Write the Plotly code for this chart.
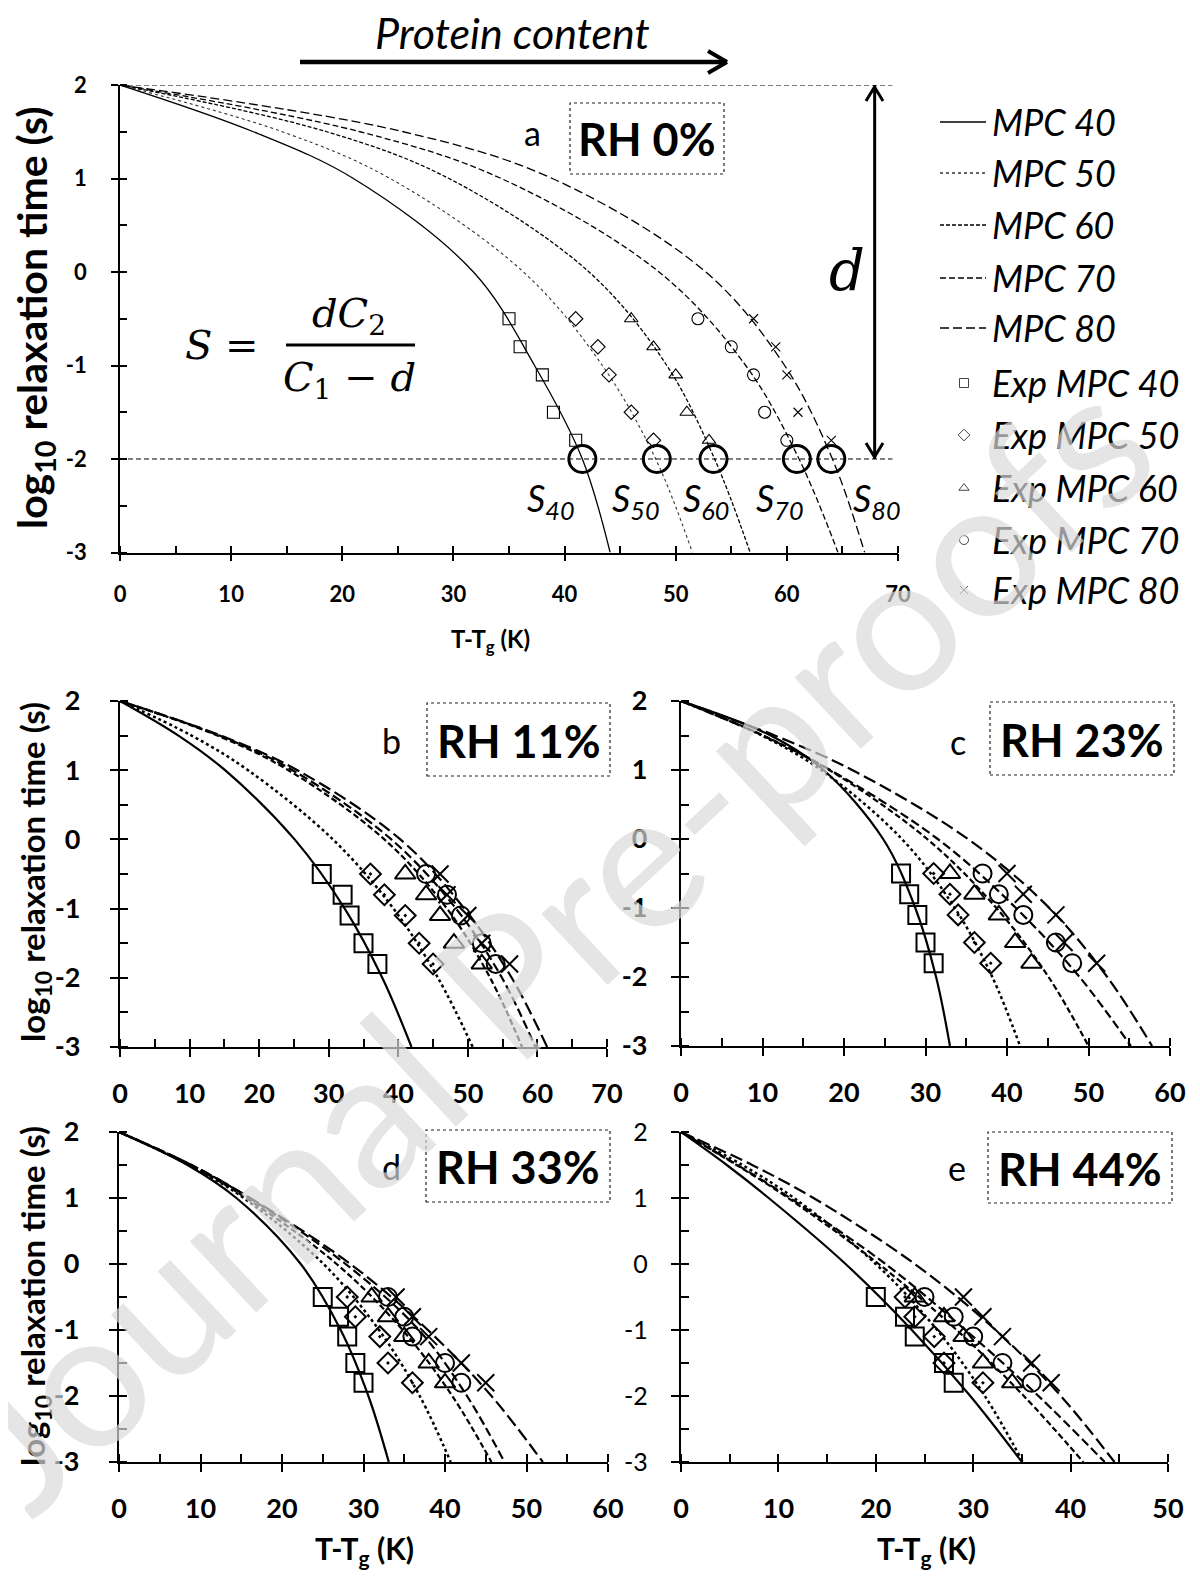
import plotly.graph_objects as go

W, H = 1200, 1576
OX, OY = 8, 8   # page offset of the rendered figure
def px(x): return (x - OX) / W
def py(y): return 1 - (y - OY) / H

# ---------------- data ----------------
SERIES = ["MPC 40", "MPC 50", "MPC 60", "MPC 70", "MPC 80"]
# log10 relaxation time levels at which the fitted curves were read
LEVELS = [2, 1.5, 1, 0, -1, -2, -3]
# log10 relaxation time levels of the experimental points
EXP_LEVELS = [-0.5, -0.8, -1.1, -1.5, -1.8]

# T-Tg (K) of each fitted curve at LEVELS
fit_a = {"MPC 40": [0, 12.0, 21.0, 31.8, 37.3, 41.6, 44.1],
         "MPC 50": [0, 14.6, 24.3, 36.3, 43.4, 48.2, 51.5],
         "MPC 60": [0, 18.6, 29.6, 42.2, 49.2, 53.5, 56.7],
         "MPC 70": [0, 21.6, 34.3, 48.5, 56.3, 61.1, 64.6],
         "MPC 80": [0, 25.5, 38.9, 52.7, 59.8, 64.1, 67.0]}
fit_b = {"MPC 40": [0, 8.4, 15.1, 25.1, 32.3, 37.7, 41.9],
         "MPC 50": [0, 10.3, 18.4, 30.6, 39.3, 45.7, 50.7],
         "MPC 60": [0, 14.0, 24.2, 38.0, 47.0, 53.2, 57.8],
         "MPC 70": [0, 14.3, 24.8, 39.0, 48.3, 54.9, 59.7],
         "MPC 80": [0, 14.5, 25.5, 40.3, 49.5, 56.3, 61.4]}
fit_c = {"MPC 40": [0, 11.0, 17.5, 24.8, 28.75, 31.3, 33.0],
         "MPC 50": [0, 9.9, 17.2, 27.1, 33.6, 38.2, 41.6],
         "MPC 60": [0, 10.1, 18.2, 30.2, 38.7, 45.1, 50.0],
         "MPC 70": [0, 10.0, 18.3, 31.5, 41.1, 48.9, 55.2],
         "MPC 80": [0, 11.5, 21.0, 35.2, 45.2, 52.3, 57.8]}
fit_d = {"MPC 40": [0, 8.4, 14.4, 22.3, 27.2, 30.6, 33.1],
         "MPC 50": [0, 8.6, 15.3, 25.1, 31.9, 36.9, 40.7],
         "MPC 60": [0, 8.7, 15.6, 26.7, 34.8, 40.9, 45.7],
         "MPC 70": [0, 8.9, 16.0, 27.8, 36.8, 42.7, 47.3],
         "MPC 80": [0, 8.9, 16.1, 28.4, 37.9, 45.7, 52.0]}
fit_e = {"MPC 40": [0, 4.7, 9.0, 16.9, 23.7, 29.7, 35.0],
         "MPC 50": [0, 6.3, 11.6, 20.0, 26.3, 31.2, 35.1],
         "MPC 60": [0, 5.7, 11.0, 20.3, 28.3, 35.2, 41.3],
         "MPC 70": [0, 5.8, 11.2, 21.0, 29.2, 36.7, 43.5],
         "MPC 80": [0, 7.3, 13.6, 24.0, 32.3, 39.0, 44.5]}

# T-Tg (K) of the experimental points at EXP_LEVELS
exp_a = {"MPC 40": [35, 36, 38, 39, 41], "MPC 50": [41, 43, 44, 46, 48],
         "MPC 60": [46, 48, 50, 51, 53], "MPC 70": [52, 55, 57, 58, 60],
         "MPC 80": [57, 59, 60, 61, 64]}
exp_b = {"MPC 40": [29, 32, 33, 35, 37], "MPC 50": [36, 38, 41, 43, 45],
         "MPC 60": [41, 44, 46, 48, 52], "MPC 70": [44, 47, 49, 52, 54],
         "MPC 80": [46, 47, 50, 52, 56]}
exp_c = {"MPC 40": [27, 28, 29, 30, 31], "MPC 50": [31, 33, 34, 36, 38],
         "MPC 60": [33, 36, 39, 41, 43], "MPC 70": [37, 39, 42, 46, 48],
         "MPC 80": [40, 42, 46, 47, 51]}
exp_d = {"MPC 40": [25, 27, 28, 29, 30], "MPC 50": [28, 29, 32, 33, 36],
         "MPC 60": [31, 33, 35, 38, 40], "MPC 70": [33, 35, 36, 40, 42],
         "MPC 80": [34, 36, 38, 42, 45]}
exp_e = {"MPC 40": [20, 23, 24, 27, 28], "MPC 50": [23, 24, 26, 27, 31],
         "MPC 60": [24, 27, 29, 31, 34], "MPC 70": [25, 28, 30, 33, 36],
         "MPC 80": [29, 31, 33, 36, 38]}

# S points of panel a (crossing of the curves with log tau = -2)
S_X = [41.6, 48.3, 53.4, 60.9, 64.0]
S_Y = [-2, -2, -2, -2, -2]
S_NAMES = ["40", "50", "60", "70", "80"]
D_LEVELS = [2, -2]

Y_TICKS = [-3, -2, -1, 0, 1, 2]
Y_TICKTEXT = ["-3", "-2", "-1", "0", "1", "2"]
RH_LABELS = ["RH 0%", "RH 11%", "RH 23%", "RH 33%", "RH 44%"]
PANEL_LETTERS = ["a", "b", "c", "d", "e"]

FONT = "Lato, sans-serif"
SERIF = "DejaVu Serif, serif"

# ---------------- styles ----------------
DASH_A = ["solid", "dot", "4px,2px", "6px,3px", "9px,4px"]
DASH_L = ["solid", "dot", "6px,3px", "9px,4px", "13px,5px"]
SYM_A = ["square-open", "diamond-open", "triangle-up-open", "circle-open", "x-thin-open"]
SYM_L = ["square-open", "diamond-open-dot", "triangle-up-open", "circle-open", "x-thin-open"]
SIZE_A = [12, 11, 12, 12, 9]
SIZE_L = [18, 16, 18, 18, 17]

panels = [
    dict(fit=fit_a, exp=exp_a, xd=(120, 898), yd=(85, 552.5), xmax=70, ax="", big=True,
         box=(570, 103, 724, 174), letter=(532, 133), ystand=20),
    dict(fit=fit_b, exp=exp_b, xd=(120, 607), yd=(701, 1047), xmax=70, ax="2", big=False,
         box=(427, 703, 610, 776), letter=(391, 740), ystand=24),
    dict(fit=fit_c, exp=exp_c, xd=(681, 1170), yd=(701, 1046), xmax=60, ax="3", big=False,
         box=(990, 702, 1174, 775), letter=(958, 741), ystand=18),
    dict(fit=fit_d, exp=exp_d, xd=(119, 608), yd=(1132, 1462), xmax=60, ax="4", big=False,
         box=(426, 1130, 610, 1202), letter=(391, 1166), ystand=24),
    dict(fit=fit_e, exp=exp_e, xd=(681, 1168), yd=(1132, 1462), xmax=50, ax="5", big=False,
         box=(988, 1132, 1172, 1203), letter=(957, 1167), ystand=18),
]

fig = go.Figure()
layout = dict(width=W, height=H, margin=dict(l=0, r=0, t=0, b=0, pad=0, autoexpand=False),
              autosize=False,
              paper_bgcolor="white", plot_bgcolor="rgba(0,0,0,0)", showlegend=False)
shapes, annotations = [], []

def ann(x, y, text, size, family=FONT, angle=0, xanchor="center", color="black"):
    annotations.append(dict(x=px(x), y=py(y), xref="paper", yref="paper", text=text, showarrow=False,
                            textangle=angle, xanchor=xanchor, yanchor="middle",
                            font=dict(family=family, size=size, color=color)))

for i, p in enumerate(panels):
    xa, ya = "x" + p["ax"], "y" + p["ax"]
    big = p["big"]
    lw = 1.3 if big else 2.2
    for k, s in enumerate(SERIES):
        fig.add_trace(go.Scatter(
            x=p["fit"][s], y=LEVELS, mode="lines", xaxis=xa, yaxis=ya,
            line=dict(color="#333" if (k == 1 and big) else "black",
                      width=(1.1 if k == 1 else lw) if big else (2.5 if k == 1 else lw),
                      dash=(DASH_A if big else DASH_L)[k], shape="spline", smoothing=1.0),
            hoverinfo="skip"))
    for k, s in enumerate(SERIES):
        fig.add_trace(go.Scatter(
            x=p["exp"][s], y=EXP_LEVELS, mode="markers", xaxis=xa, yaxis=ya,
            marker=dict(symbol=(SYM_A if big else SYM_L)[k],
                        size=(SIZE_A if big else SIZE_L)[k], color="black",
                        line=dict(width=1.1 if big else 2.0, color="black")),
            hoverinfo="skip"))

    tl = 7 if big else 8
    alw = 1.6 if big else 2.4
    tfs = 22 if big else 27
    xkey = "xaxis" + p["ax"]
    ykey = "yaxis" + p["ax"]
    layout[xkey] = dict(
        domain=[px(p["xd"][0]), px(p["xd"][1])], range=[0, p["xmax"]], anchor=ya,
        dtick=10, tick0=0, showline=True, linecolor="black", linewidth=alw, automargin=False,
        ticks="outside", ticklen=tl, tickwidth=alw, tickcolor="black",
        minor=dict(ticks="inside", dtick=5, tick0=0, ticklen=tl, tickwidth=alw, tickcolor="black"),
        showgrid=False, zeroline=False, fixedrange=True,
        tickfont=dict(family=FONT, size=tfs, color="black", weight="bold"),
        ticklabelstandoff=14 if big else 13)
    layout[ykey] = dict(
        domain=[py(p["yd"][1]), py(p["yd"][0])], range=[-3, 2], anchor=xa, automargin=False,
        tickmode="array", tickvals=Y_TICKS, ticktext=Y_TICKTEXT,
        showline=True, linecolor="black", linewidth=alw,
        ticks="outside", ticklen=tl, tickwidth=alw, tickcolor="black",
        minor=dict(ticks="inside", tickmode="linear", dtick=0.5, tick0=0, ticklen=tl,
                   tickwidth=alw, tickcolor="black"),
        showgrid=False, zeroline=False, fixedrange=True,
        tickfont=dict(family=FONT, size=(25 if i == 4 else tfs), color="black",
                      weight=("normal" if i == 4 else "bold")),
        ticklabelstandoff=p["ystand"])

    # RH box and panel letter
    bx0, by0, bx1, by1 = p["box"]
    shapes.append(dict(type="rect", xref="paper", yref="paper", x0=px(bx0), x1=px(bx1),
                       y0=py(by1), y1=py(by0), line=dict(color="#222", width=1.2, dash="dot")))
    ann((bx0 + bx1) / 2, (by0 + by1) / 2 + 1, "<b>%s</b>" % RH_LABELS[i], 45)
    ann(p["letter"][0], p["letter"][1], PANEL_LETTERS[i], 34)

# S points (big circles) on panel a
fig.add_trace(go.Scatter(x=S_X, y=S_Y, mode="markers", xaxis="x", yaxis="y",
                         marker=dict(symbol="circle-open", size=27, color="black",
                                     line=dict(width=3, color="black")), hoverinfo="skip"))
# horizontal dashed reference lines (d levels)
for lv in D_LEVELS:
    shapes.append(dict(type="line", xref="x", yref="y", x0=0, x1=69.5, y0=lv, y1=lv,
                       line=dict(color="black", width=1.2, dash="5px,3px")))
# vertical d arrow
shapes.append(dict(type="line", xref="x", yref="y", x0=67.9, x1=67.9, y0=D_LEVELS[0], y1=D_LEVELS[1],
                   line=dict(color="black", width=3)))
for (ax0, ay0, ax1, ay1) in [(866, 101, 874.5, 87), (883, 101, 874.5, 87),
                             (866, 443, 874.5, 457), (883, 443, 874.5, 457)]:
    shapes.append(dict(type="line", xref="paper", yref="paper", x0=px(ax0), y0=py(ay0),
                       x1=px(ax1), y1=py(ay1), line=dict(color="black", width=3)))
# protein content arrow
shapes.append(dict(type="line", xref="paper", yref="paper", x0=px(300), x1=px(726), y0=py(62), y1=py(62),
                   line=dict(color="black", width=4.5)))
for (ax0, ay0) in [(708, 51), (708, 73)]:
    shapes.append(dict(type="line", xref="paper", yref="paper", x0=px(ax0), y0=py(ay0),
                       x1=px(727), y1=py(62), line=dict(color="black", width=4)))
# fraction bar of the formula
shapes.append(dict(type="line", xref="paper", yref="paper", x0=px(286), x1=px(415), y0=py(345), y1=py(345),
                   line=dict(color="black", width=3)))

ann(512, 33, "<i>Protein content</i>", 43)
ann(222, 345, "<i>S</i> =", 40, SERIF)
ann(349, 316, "<i>dC</i><sub>2</sub>", 40, SERIF)
ann(350, 380, "<i>C</i><sub>1</sub> − <i>d</i>", 40, SERIF)
ann(847, 270, "<i>d</i>", 56, SERIF)
S_PX = [551, 636, 706, 780, 877]
for sx, nm in zip(S_PX, S_NAMES):
    ann(sx, 500, "<i>S<sub>%s</sub></i>" % nm, 36)

# axis titles
ann(34, 318, "<b>log<sub>10</sub> relaxation time (s)</b>", 41, angle=-90)
ann(34, 872, "<b>log<sub>10</sub> relaxation time (s)</b>", 33, angle=-90)
ann(34, 1296, "<b>log<sub>10</sub> relaxation time (s)</b>", 33, angle=-90)
ann(490, 640, "<b>T-T<sub>g</sub> (K)</b>", 24)
ann(364, 1550, "<b>T-T<sub>g</sub> (K)</b>", 30)
ann(926, 1550, "<b>T-T<sub>g</sub> (K)</b>", 30)

# legend (drawn in a pixel-space overlay axis)
LEG_ROWS = [122, 173, 225, 278, 328, 383, 435, 488, 540, 590]
for k, s in enumerate(SERIES):
    yy = LEG_ROWS[k]
    fig.add_trace(go.Scatter(x=[940, 986], y=[yy, yy], mode="lines", xaxis="x6", yaxis="y6",
                             line=dict(color="#333" if k == 1 else "black", width=1.3, dash=DASH_A[k]),
                             hoverinfo="skip"))
    ann(990, yy, "<i>%s</i>" % s, 36, xanchor="left")
for k, s in enumerate(SERIES):
    yy = LEG_ROWS[5 + k]
    fig.add_trace(go.Scatter(x=[964], y=[yy], mode="markers", xaxis="x6", yaxis="y6",
                             marker=dict(symbol=SYM_A[k], size=[9, 9, 9, 9, 8][k], color="#444",
                                         line=dict(width=1, color="#444")), hoverinfo="skip"))
    ann(990, yy, "<i>Exp %s</i>" % s, 36, xanchor="left")

layout["xaxis6"] = dict(domain=[0, 1], range=[OX, W + OX], visible=False, anchor="y6", fixedrange=True)
layout["yaxis6"] = dict(domain=[0, 1], range=[H + OY, OY], visible=False, anchor="x6", fixedrange=True)

# watermark
annotations.append(dict(x=px(548), y=py(938), xref="paper", yref="paper", text="Journal Pre-proofs",
                        showarrow=False, textangle=-43, xanchor="center", yanchor="middle",
                        font=dict(family=FONT, size=192, color="rgba(217,217,217,0.69)")))

layout["shapes"] = shapes
layout["annotations"] = annotations
fig.update_layout(**layout)
fig.write_html("out.html")
